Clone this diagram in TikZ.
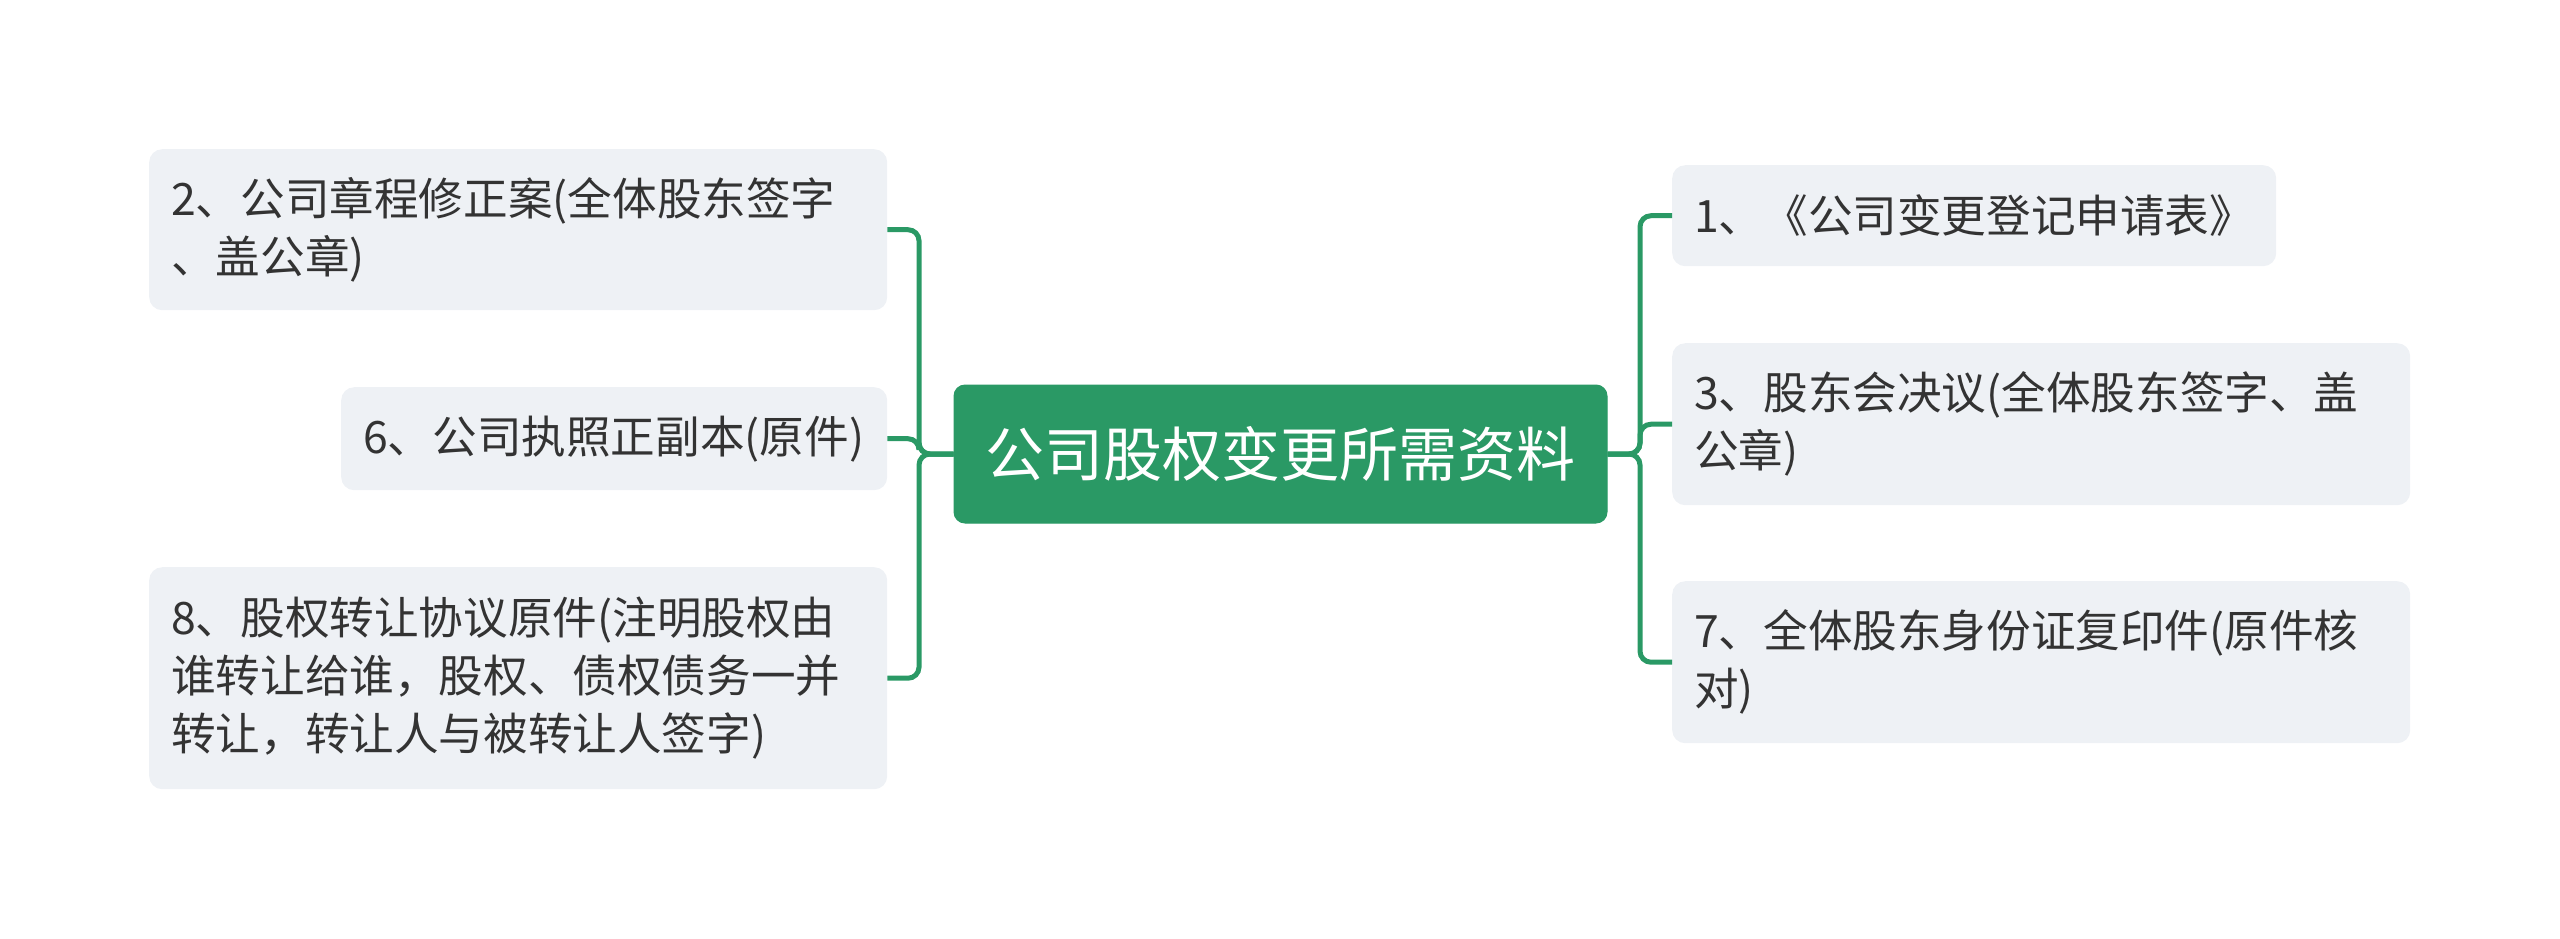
\documentclass[tikz,border=0pt]{standalone}
\usepackage{fontspec}
\setmainfont{Noto Sans CJK SC}
\usepackage{xcolor}
\usetikzlibrary{positioning,shapes,calc}
\definecolor{mapgreen}{RGB}{42,153,101}
\definecolor{leafgray}{RGB}{238,241,245}
\definecolor{leaftext}{RGB}{51,51,51}

\begin{document}
\begin{tikzpicture}[x=1pt,y=-1pt,
	main node/.style={rectangle,rounded corners=11pt,fill=mapgreen,draw=mapgreen,line width=1pt,
		text=white,font=\fontsize{59pt}{70pt}\selectfont,minimum width=653pt,minimum height=138pt,inner sep=0pt},
	sub node/.style={rectangle,rounded corners=13pt,fill=leafgray,text=leaftext,anchor=north west,
		font=\fontsize{44.6pt}{58pt}\selectfont,align=left,inner xsep=22pt,inner ysep=0pt},
	link/.style={draw=mapgreen,line width=5pt,rounded corners=11pt}]

    \useasboundingbox (0,0) rectangle (2560,938);

    \node[main node] (C) at (1280.5,454) {公司股权变更所需资料};

    % left side
    \node[sub node,text width=694pt,minimum height=161pt] (L2) at (149,149)
        {2、公司章程修正案(全体股东签字\\、盖公章)};
    \node[sub node,text width=502pt,minimum height=103pt] (L6) at (341,387)
        {6、公司执照正副本(原件)};
    \node[sub node,text width=694pt,minimum height=222pt] (L8) at (149,567)
        {8、股权转让协议原件(注明股权由\\谁转让给谁，股权、债权债务一并\\转让，转让人与被转让人签字)};

    % right side
    \node[sub node,text width=560pt,minimum height=101pt] (R1) at (1672,165)
        {1、《公司变更登记申请表》};
    \node[sub node,text width=694pt,minimum height=162pt] (R3) at (1672,343)
        {3、股东会决议(全体股东签字、盖\\公章)};
    \node[sub node,text width=694pt,minimum height=162pt] (R7) at (1672,581)
        {7、全体股东身份证复印件(原件核\\对)};

    \coordinate (LT) at (919,454);
    \coordinate (RT) at (1640,454);

    \draw[link] (C.west) -- (LT) |- (L2.east);
    \draw[link] (C.west) -- (LT) |- (L6.east);
    \draw[link] (C.west) -- (LT) |- (L8.east);
    \draw[link] (C.east) -- (RT) |- (R1.west);
    \draw[link] (C.east) -- (RT) |- (R3.west);
    \draw[link] (C.east) -- (RT) |- (R7.west);

\end{tikzpicture}
\end{document}
